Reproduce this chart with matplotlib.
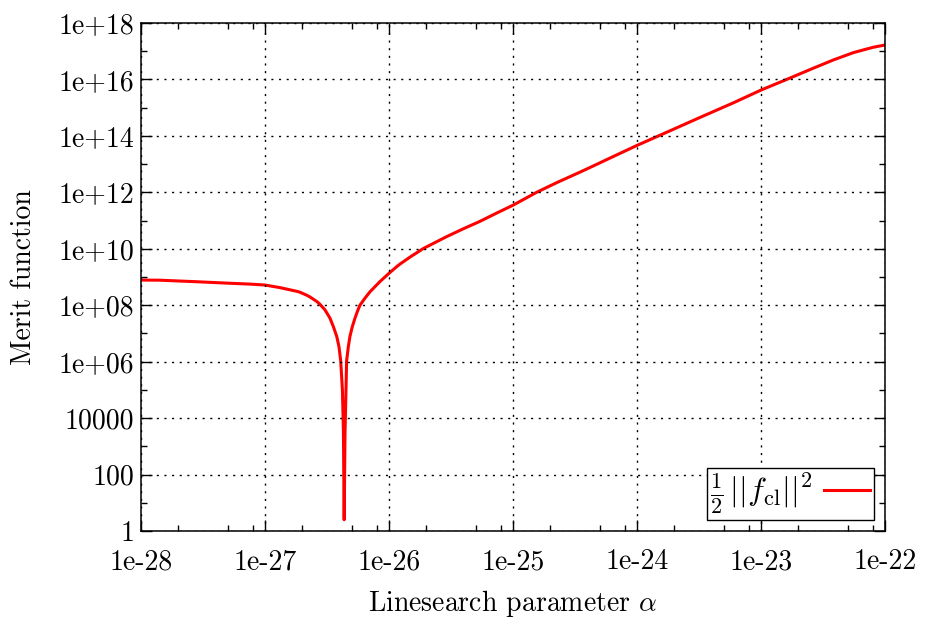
import matplotlib
matplotlib.use("Agg")
import matplotlib.pyplot as plt
from matplotlib.ticker import FixedLocator, NullFormatter

# ── Data (linesearch scan) ─────────────────────────────────────────────────
alpha = [
    1.00e-28, 1.42e-28, 2.81e-28, 5.22e-28, 7.57e-28, 1.00e-27, 1.32e-27,
    1.81e-27, 1.91e-27, 2.18e-27, 2.31e-27, 2.62e-27, 2.78e-27, 3.05e-27,
    3.34e-27, 3.56e-27, 3.79e-27, 3.95e-27, 4.08e-27, 4.21e-27, 4.29e-27,
    4.35e-27, 4.42e-27, 4.50e-27, 4.55e-27, 4.70e-27, 4.84e-27, 5.06e-27,
    5.32e-27, 5.55e-27, 5.83e-27, 6.40e-27, 7.03e-27, 8.20e-27, 8.46e-27,
    1.00e-26, 1.15e-26, 1.23e-26, 1.48e-26, 1.89e-26, 2.92e-26, 3.97e-26,
    5.42e-26, 7.40e-26, 1.00e-25, 1.55e-25, 2.25e-25, 3.47e-25, 4.73e-25,
    6.44e-25, 1.00e-24, 1.74e-24, 3.22e-24, 5.98e-24, 1.00e-23, 1.61e-23,
    2.64e-23, 3.83e-23, 5.55e-23, 8.03e-23, 1.00e-22,
]
merit = [
    7.8e8, 7.7e8, 6.8e8, 6.0e8, 5.6e8, 5.2e8, 4.2e8,
    3.1e8, 2.9e8, 2.24e8, 1.95e8, 1.35e8, 1.07e8, 6.8e7,
    3.5e7, 1.74e7, 7.8e6, 3.4e6, 1.05e6, 1.0e5, 3.2e3,
    2.5, 3.2e3, 1.0e5, 1.05e6, 3.4e6, 7.8e6, 1.74e7,
    3.5e7, 5.9e7, 1.0e8, 1.78e8, 3.0e8, 6.0e8, 6.9e8,
    1.35e9, 2.3e9, 2.9e9, 5.1e9, 1.02e10, 2.7e10, 5.1e10,
    9.4e10, 1.85e11, 3.5e11, 1.0e12, 2.2e12, 5.2e12, 9.8e12,
    1.86e13, 4.6e13, 1.35e14, 4.5e14, 1.48e15, 4.2e15, 1.0e16,
    2.5e16, 4.9e16, 8.9e16, 1.38e17, 1.66e17,
]

x_ticks = [1e-28, 1e-27, 1e-26, 1e-25, 1e-24, 1e-23, 1e-22]
x_labels = ["1e-28", "1e-27", "1e-26", "1e-25", "1e-24", "1e-23", "1e-22"]
y_ticks = [1e0, 1e2, 1e4, 1e6, 1e8, 1e10, 1e12, 1e14, 1e16, 1e18]
y_labels = ["1", "100", "10000", "1e+06", "1e+08", "1e+10",
            "1e+12", "1e+14", "1e+16", "1e+18"]

# ── Style ───────────────────────────────────────────────────────────────────
plt.rcParams["font.family"] = ["cmr10", "DejaVu Serif"]
plt.rcParams["mathtext.fontset"] = "cm"
plt.rcParams["axes.formatter.use_mathtext"] = True
plt.rcParams["font.size"] = 20

fig = plt.figure(figsize=(9.28, 6.18), dpi=100)
ax = fig.add_axes([141 / 928, 87 / 618, 744 / 928, 508 / 618])

ax.plot(alpha, merit, color="#ff0000", linewidth=2.2,
        label=r"$\frac{1}{2}\,||f_{\rm cl}||^2$")

ax.set_xscale("log")
ax.set_yscale("log")
ax.set_xlim(1e-28, 1e-22)
ax.set_ylim(1, 1e18)

ax.xaxis.set_major_locator(FixedLocator(x_ticks))
ax.set_xticklabels(x_labels)
ax.yaxis.set_major_locator(FixedLocator(y_ticks))
ax.set_yticklabels(y_labels)

x_minor = [m * d for d in x_ticks[:-1] for m in (2, 5, 8)]
y_minor = [10.0 ** k for k in range(1, 18, 2)]
ax.xaxis.set_minor_locator(FixedLocator(x_minor))
ax.yaxis.set_minor_locator(FixedLocator(y_minor))
ax.xaxis.set_minor_formatter(NullFormatter())
ax.yaxis.set_minor_formatter(NullFormatter())

ax.tick_params(which="both", direction="in", top=True, right=True,
               width=1.0, colors="black")
ax.tick_params(which="major", length=8)
ax.tick_params(which="minor", length=4.3)
ax.tick_params(axis="x", which="major", pad=13)
ax.tick_params(axis="y", which="major", pad=5)

for sp in ax.spines.values():
    sp.set_linewidth(1.1)

ax.grid(True, which="major", color="black", linestyle=(0, (1.5, 4)),
        linewidth=1.0)
ax.set_axisbelow(False)

ax.set_xlabel(r"Linesearch parameter $\alpha$", labelpad=9)
ax.set_ylabel("Merit function", labelpad=15)

leg = ax.legend(loc="lower right", markerfirst=False, fancybox=False,
                framealpha=1.0, edgecolor="black", handlelength=1.45,
                fontsize=23, borderaxespad=0.34, borderpad=0.12,
                handletextpad=0.35)
leg.get_frame().set_linewidth(1.0)

fig.savefig("out.png", dpi=100)
